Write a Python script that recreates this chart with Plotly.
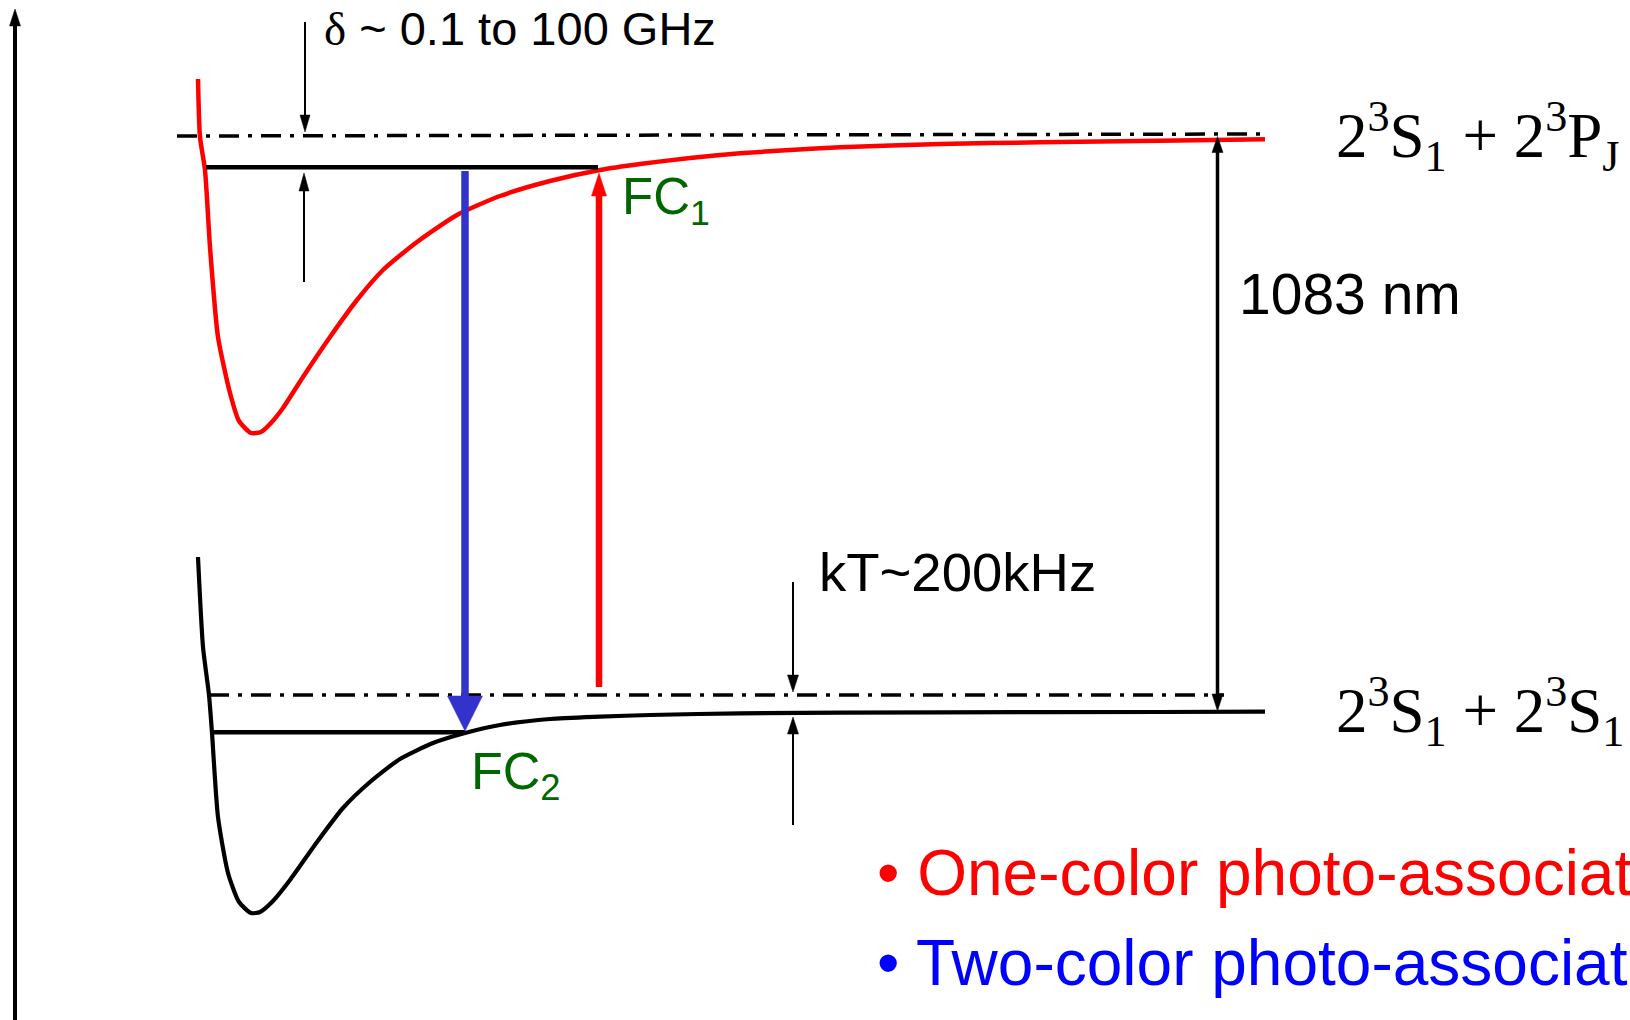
import plotly.graph_objects as go

# ---------------- data (page pixel coordinates) ----------------
# excited-state potential (2^3S1 + 2^3PJ), red
EXC_X = [198, 200, 205, 210, 218, 230, 239, 251, 261, 271, 283, 303, 330, 357, 383, 417,
         457, 500, 550, 600, 640, 690, 740, 790, 840, 940, 1040, 1160, 1265]
EXC_Y = [79, 137, 170, 247, 337, 393, 421, 433, 432, 423, 408, 377, 337, 300, 270, 242,
         215, 196, 181, 170, 164, 158, 153.3, 150, 147.3, 144, 142.3, 140.7, 139.3]

# ground-state potential (2^3S1 + 2^3S1), black
GND_X = [198, 203, 209, 212, 218, 228, 239, 251, 260, 273, 290, 317, 343, 370, 400, 433,
         465, 500, 550, 600, 650, 740, 940, 1160, 1265]
GND_Y = [557, 647, 695, 733, 817, 873, 902, 913, 912, 901, 880, 842, 808, 782, 759, 743,
         733, 725, 719, 716.7, 715, 713.3, 712.3, 712, 711.7]

# dissociation limits (dash-dot) : x0, x1, y0, y1
LIMIT_X0 = [177, 209]
LIMIT_X1 = [1265, 1224]
LIMIT_Y0 = [136, 695]
LIMIT_Y1 = [134, 695]

# bound levels : x0, x1, y
LEVEL_X0 = [206, 213]
LEVEL_X1 = [598, 465]
LEVEL_Y = [167.3, 732.3]

# arrows : x, tail y, tip y
ARROW_NAMES = ["axis", "delta_down", "delta_up", "kT_down", "kT_up", "blue", "red"]
ARROW_X = [15, 305, 304, 793, 793, 465, 599]
ARROW_TAIL = [1020, 22, 282, 582, 825, 171, 687]
ARROW_TIP = [9, 132, 173, 692, 717, 731, 173]

# 1083 nm double arrow
DOUBLE_X = 1217.5
DOUBLE_TOP = 136.5
DOUBLE_BOTTOM = 711

# labels
LBL_DELTA = "<span style=\"font-family:Liberation Serif\">δ</span> ~ 0.1 to 100 GHz"
LBL_KT = "kT~200kHz"
LBL_NM = "1083 nm"
LBL_FC1 = "FC<sub>1</sub>"
LBL_FC2 = "FC<sub>2</sub>"
LBL_UPPER = "2<sup>3</sup>S<sub>1</sub> + 2<sup>3</sup>P<sub>J</sub>"
LBL_LOWER = "2<sup>3</sup>S<sub>1</sub> + 2<sup>3</sup>S<sub>1</sub>"
LBL_ONE = "• One-color photo-association"
LBL_TWO = "• Two-color photo-association"

# ---------------- styles ----------------
RED = "#ff0000"
BLUE_ARROW = "#3333cc"
BLUE_TEXT = "#0000ff"
GREEN = "#006600"
BLACK = "#000000"
SANS = "Liberation Sans, Arial, sans-serif"
SERIF = "Liberation Serif, Times New Roman, serif"

ARROW_STYLE = {
    "axis": dict(w=4, hl=17, hw=5.5, c=BLACK),
    "delta_down": dict(w=2, hl=17, hw=5, c=BLACK),
    "delta_up": dict(w=2, hl=18, hw=5, c=BLACK),
    "kT_down": dict(w=2, hl=17, hw=5.5, c=BLACK),
    "kT_up": dict(w=2, hl=17, hw=5.5, c=BLACK),
    "blue": dict(w=7.5, hl=35, hw=17.5, c=BLUE_ARROW),
    "red": dict(w=6.5, hl=23, hw=7.5, c=RED),
}

fig = go.Figure()


def line(xs, ys, color, width, dash=None, shape="linear", smoothing=None):
    ln = dict(color=color, width=width, dash=dash, shape=shape)
    if smoothing is not None:
        ln["smoothing"] = smoothing
    fig.add_trace(go.Scatter(x=xs, y=ys, mode="lines", hoverinfo="skip", line=ln))


def head(x, y_tip, direction, hl, hw, color):
    yb = y_tip - direction * hl
    fig.add_trace(go.Scatter(x=[x - hw, x + hw, x, x - hw], y=[yb, yb, y_tip, yb],
                             mode="lines", fill="toself", fillcolor=color, hoverinfo="skip",
                             line=dict(color=color, width=0.5)))


def arrow(x, tail, tip, w, hl, hw, c):
    d = 1 if tip > tail else -1
    line([x, x], [tail, tip - d * (hl - 2)], c, w)
    head(x, tip, d, hl, hw, c)


# dissociation limits
for x0, x1, y0, y1 in zip(LIMIT_X0, LIMIT_X1, LIMIT_Y0, LIMIT_Y1):
    line([x0, x1], [y0, y1], BLACK, 3.5, dash="20px,9px,4px,9px")

# potentials
line(EXC_X, EXC_Y, RED, 4.5, shape="spline", smoothing=0.6)
line(GND_X, GND_Y, BLACK, 4.2, shape="spline", smoothing=0.6)

# bound levels
for x0, x1, y in zip(LEVEL_X0, LEVEL_X1, LEVEL_Y):
    line([x0, x1], [y, y], BLACK, 4.5)

# arrows
for name, x, tail, tip in zip(ARROW_NAMES, ARROW_X, ARROW_TAIL, ARROW_TIP):
    arrow(x, tail, tip, **ARROW_STYLE[name])

# 1083 nm double arrow
line([DOUBLE_X, DOUBLE_X], [DOUBLE_TOP + 14, DOUBLE_BOTTOM - 15], BLACK, 3.5)
head(DOUBLE_X, DOUBLE_TOP, -1, 16, 5.5, BLACK)
head(DOUBLE_X, DOUBLE_BOTTOM, 1, 17, 5.5, BLACK)


def text(x, y, s, size, color, family=SANS, yanchor="middle"):
    fig.add_annotation(x=x, y=y, xref="x", yref="y", text=s, showarrow=False,
                       xanchor="left", yanchor=yanchor,
                       font=dict(size=size, color=color, family=family))


text(322, 28, LBL_DELTA, 47, BLACK)
text(1237, 293.5, LBL_NM, 57, BLACK)
text(817, 572.6, LBL_KT, 54.5, BLACK)
text(620, 200, LBL_FC1, 51, GREEN)
text(469, 775, LBL_FC2, 52, GREEN)
text(1334, 136.3, LBL_UPPER, 63, BLACK, SERIF)
text(1334, 711.3, LBL_LOWER, 63, BLACK, SERIF)
text(875, 872.8, LBL_ONE, 64, RED)
text(875, 962.8, LBL_TWO, 64, BLUE_TEXT)

fig.update_layout(
    width=1630, height=1020,
    margin=dict(l=0, r=0, t=0, b=0),
    paper_bgcolor="white", plot_bgcolor="white",
    showlegend=False,
    xaxis=dict(range=[0, 1630], visible=False, fixedrange=True),
    yaxis=dict(range=[1020, 0], visible=False, fixedrange=True),
)

fig.write_html("out.html", config={"displayModeBar": False},
               post_script="document.body.style.margin='0';document.body.style.overflow='hidden';")
